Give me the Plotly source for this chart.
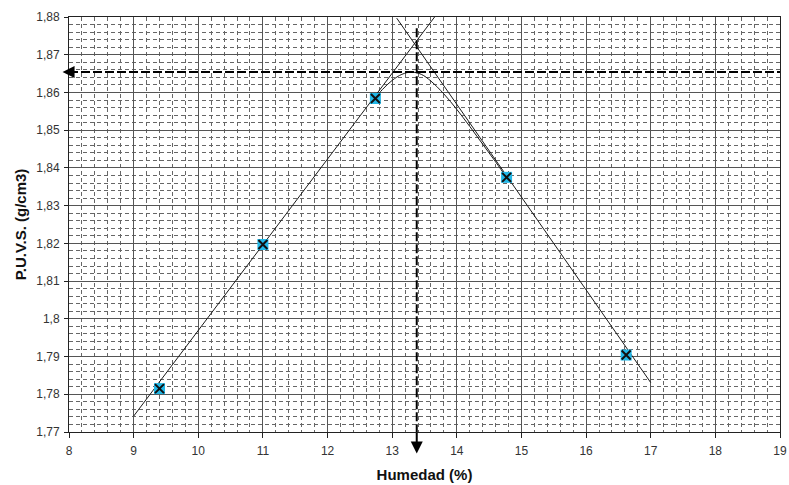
import plotly.graph_objects as go

# Measured points
hum = [9.4, 11.0, 12.74, 14.77, 16.62]
puvs = [1.7815, 1.8197, 1.8584, 1.8375, 1.7904]

# Straight (tangent) lines
left_x = [9.0, 13.74]
left_y = [1.7742, 1.8819]
right_x = [13.07, 17.0]
right_y = [1.8797, 1.7831]

# Compaction curve
curve_x = [12.7, 12.85, 13.0, 13.15, 13.3, 13.45, 13.6, 13.8, 14.0, 14.2, 14.4, 14.6, 14.8]
curve_y = [1.8578, 1.8608, 1.8632, 1.8648, 1.8654, 1.8648, 1.8630, 1.8596, 1.8555, 1.8510, 1.8463, 1.8416, 1.8367]

# Optimum
opt_x = 13.38
opt_y = 1.8654
vline_top = 1.8770

xticks = [8, 9, 10, 11, 12, 13, 14, 15, 16, 17, 18, 19]
yticks = [1.77, 1.78, 1.79, 1.80, 1.81, 1.82, 1.83, 1.84, 1.85, 1.86, 1.87, 1.88]
ytext = ["1,77", "1,78", "1,79", "1,8", "1,81", "1,82", "1,83", "1,84", "1,85", "1,86", "1,87", "1,88"]

fig = go.Figure()
line_col = "#1a1a1a"
fig.add_trace(go.Scatter(x=left_x, y=left_y, mode="lines", line=dict(color=line_col, width=1), showlegend=False))
fig.add_trace(go.Scatter(x=right_x, y=right_y, mode="lines", line=dict(color=line_col, width=1), showlegend=False))
fig.add_trace(go.Scatter(x=curve_x, y=curve_y, mode="lines", line=dict(color=line_col, width=1, shape="spline", smoothing=1.0), showlegend=False))

# dashed optimum lines
fig.add_trace(go.Scatter(x=[8, 19], y=[opt_y, opt_y], mode="lines",
                         line=dict(color="black", width=2, dash="9px,3px"), showlegend=False))
fig.add_trace(go.Scatter(x=[opt_x, opt_x], y=[vline_top, 1.77], mode="lines",
                         line=dict(color="black", width=2, dash="9px,3px"), showlegend=False))

fig.add_trace(go.Scatter(x=hum, y=puvs, mode="markers",
                         marker=dict(symbol="square", size=11, color="#22b8e8", line=dict(width=0)),
                         showlegend=False))
fig.add_trace(go.Scatter(x=hum, y=puvs, mode="markers",
                         marker=dict(symbol="x-thin", size=9, color="black", line=dict(width=2, color="#111")),
                         showlegend=False))

# arrowheads
fig.add_annotation(x=7.9, y=opt_y, ax=8.02, ay=opt_y, xref="x", yref="y", axref="x", ayref="y",
                   showarrow=True, arrowhead=2, arrowsize=1.2, arrowwidth=2, arrowcolor="black", text="")
fig.add_annotation(x=opt_x, y=1.7643, ax=opt_x, ay=1.7702, xref="x", yref="y", axref="x", ayref="y",
                   showarrow=True, arrowhead=2, arrowsize=1.2, arrowwidth=2, arrowcolor="black", text="")

font_fam = "Liberation Sans, Arial"
grid_col = "#555555"
minor_col = "#666666"
fig.update_xaxes(range=[8, 19], tickvals=xticks, ticktext=[str(v) for v in xticks],
                 showgrid=True, gridcolor=grid_col, gridwidth=1, automargin=False,
                 minor=dict(dtick=0.2, showgrid=True, gridcolor=minor_col, gridwidth=1, griddash="4px,3px"),
                 showline=True, linecolor="#222", linewidth=1, mirror=True,
                 ticks="outside", ticklen=5, tickcolor="#222", zeroline=False,
                 ticklabelstandoff=3, ticklabeloverflow="allow",
                 tickfont=dict(family=font_fam, size=12, color="#333"),
                 title=dict(text="<b>Humedad (%)</b>", font=dict(family=font_fam, size=15, color="#111"), standoff=12))
fig.update_yaxes(range=[1.77, 1.88], tickvals=yticks, ticktext=ytext,
                 showgrid=True, gridcolor=grid_col, gridwidth=1, automargin=False,
                 minor=dict(dtick=0.002, showgrid=True, gridcolor=minor_col, gridwidth=1, griddash="4px,3px"),
                 showline=True, linecolor="#222", linewidth=1, mirror=True,
                 ticks="outside", ticklen=4, tickcolor="#222", zeroline=False,
                 ticklabelstandoff=2, ticklabeloverflow="allow",
                 tickfont=dict(family=font_fam, size=12, color="#333"),
                 title=dict(text="<b>P.U.V.S. (g/cm3)</b>", font=dict(family=font_fam, size=15, color="#111"), standoff=5))

fig.update_layout(width=789, height=485, margin=dict(l=69, r=9, t=17, b=53, autoexpand=False),
                  plot_bgcolor="white", paper_bgcolor="white", showlegend=False)

fig.write_html("out.html", config={"displayModeBar": False},
               post_script="document.body.style.margin='0';document.body.style.overflow='hidden';")
